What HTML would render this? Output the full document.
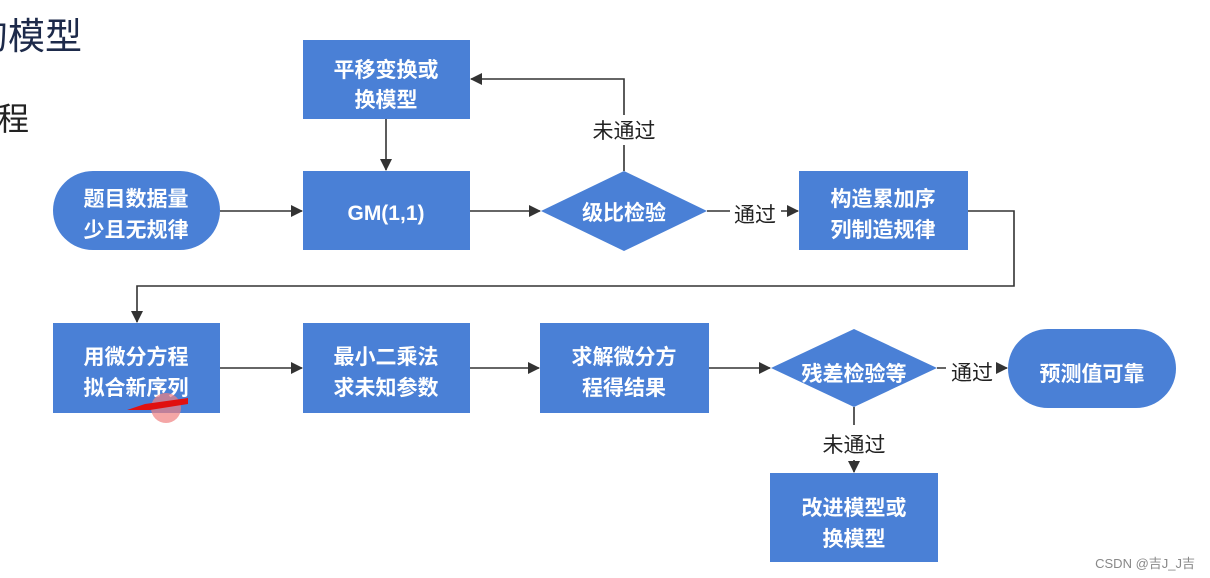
<!DOCTYPE html>
<html><head><meta charset="utf-8"><style>
html,body{margin:0;padding:0;background:#fff;}
svg{display:block;}
.w{fill:#fff;font-family:"Liberation Sans","Noto Sans CJK SC",sans-serif;font-size:21px;font-weight:bold;text-anchor:middle;}
.l{fill:#222;font-family:"Liberation Sans","Noto Sans CJK SC",sans-serif;font-size:21px;text-anchor:middle;}
.ln{stroke:#333;stroke-width:1.6;fill:none;}
</style></head><body>
<svg width="1210" height="578" viewBox="0 0 1210 578" xmlns="http://www.w3.org/2000/svg">
<defs><marker id="a" markerWidth="12" markerHeight="12" refX="11" refY="6" orient="auto" markerUnits="userSpaceOnUse"><path d="M0,0 L12,6 L0,12 z" fill="#333"/></marker></defs>
<text x="-29" y="49" font-family="Liberation Sans,Noto Sans CJK SC,sans-serif" font-size="37" fill="#1d2a4a">的模型</text>
<text x="-3" y="130" font-family="Liberation Sans,Noto Sans CJK SC,sans-serif" font-size="32" fill="#222">程</text>
<g fill="#4a80d6">
<rect x="303" y="40" width="167" height="79"/>
<rect x="53" y="171" width="167" height="79" rx="40"/>
<rect x="303" y="171" width="167" height="79"/>
<polygon points="541,211 624,171 707,211 624,251"/>
<rect x="799" y="171" width="169" height="79"/>
<rect x="53" y="323" width="167" height="90"/>
<rect x="303" y="323" width="167" height="90"/>
<rect x="540" y="323" width="169" height="90"/>
<polygon points="771,368 854,329 937,368 854,407"/>
<rect x="1008" y="329" width="168" height="79" rx="40"/>
<rect x="770" y="473" width="168" height="89"/>
</g>
<path class="ln" d="M386,119 L386,170" marker-end="url(#a)"/>
<path class="ln" d="M220,211 L302,211" marker-end="url(#a)"/>
<path class="ln" d="M470,211 L540,211" marker-end="url(#a)"/>
<path class="ln" d="M624,171 L624,145 M624,115 L624,79 L471,79" marker-end="url(#a)"/>
<path class="ln" d="M707,211 L730,211 M781,211 L798,211" marker-end="url(#a)"/>
<path class="ln" d="M968,211 L1014,211 L1014,286 L137,286 L137,322" marker-end="url(#a)"/>
<path class="ln" d="M220,368 L302,368" marker-end="url(#a)"/>
<path class="ln" d="M470,368 L539,368" marker-end="url(#a)"/>
<path class="ln" d="M709,368 L770,368" marker-end="url(#a)"/>
<path class="ln" d="M937,368 L946,368 M998,368 L1007,368" marker-end="url(#a)"/>
<path class="ln" d="M854,407 L854,425 M854,460 L854,472" marker-end="url(#a)"/>
<text class="l" x="624" y="138">未通过</text>
<text class="l" x="755" y="222">通过</text>
<text class="l" x="972" y="380">通过</text>
<text class="l" x="854" y="452">未通过</text>
<text class="w" x="386" y="77">平移变换或</text>
<text class="w" x="386" y="107">换模型</text>
<text class="w" x="136" y="206">题目数据量</text>
<text class="w" x="136" y="237">少且无规律</text>
<text class="w" x="386" y="220">GM(1,1)</text>
<text class="w" x="624" y="220">级比检验</text>
<text class="w" x="883" y="206">构造累加序</text>
<text class="w" x="883" y="237">列制造规律</text>
<text class="w" x="136" y="364">用微分方程</text>
<text class="w" x="136" y="395">拟合新序列</text>
<text class="w" x="386" y="364">最小二乘法</text>
<text class="w" x="386" y="395">求未知参数</text>
<text class="w" x="624" y="364">求解微分方</text>
<text class="w" x="624" y="395">程得结果</text>
<text class="w" x="854" y="381">残差检验等</text>
<text class="w" x="1092" y="381">预测值可靠</text>
<text class="w" x="854" y="515">改进模型或</text>
<text class="w" x="854" y="546">换模型</text>
<circle cx="166" cy="408" r="15" fill="#f08080" opacity="0.7"/>
<path d="M127,410 L145,404 L188,398 L188,404 L150,410 Z" fill="#e01010"/>
<text x="1195" y="568" font-family="Liberation Sans,Noto Sans CJK SC,sans-serif" font-size="13" fill="#888" text-anchor="end">CSDN @吉J_J吉</text>
</svg>
</body></html>
